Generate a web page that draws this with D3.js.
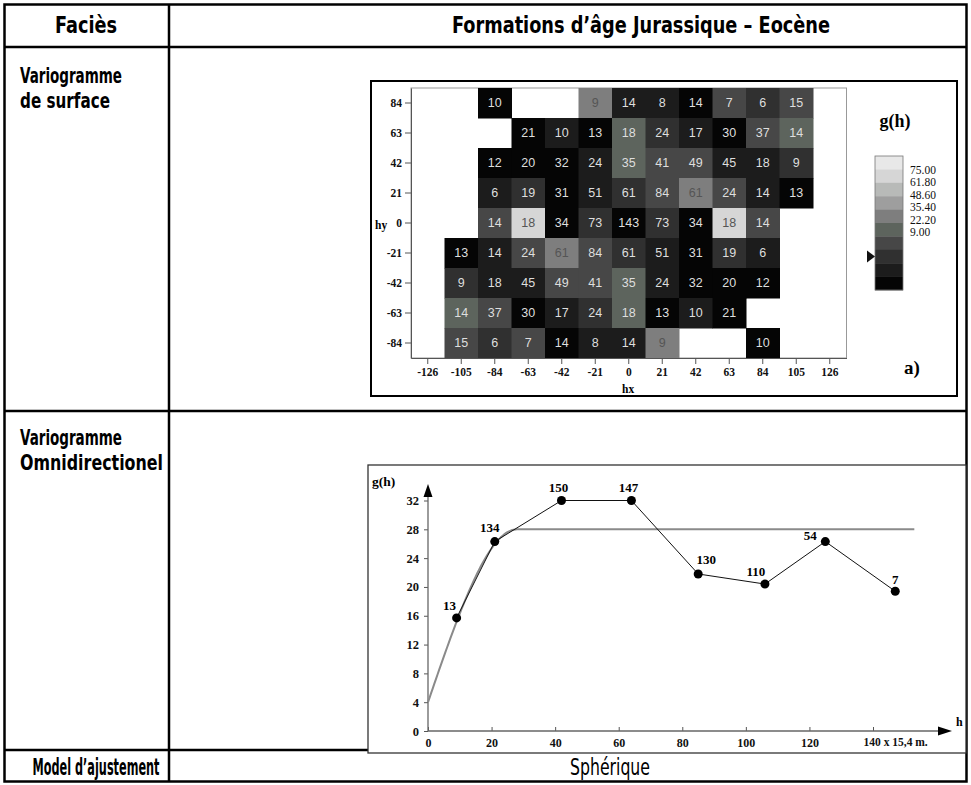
<!DOCTYPE html>
<html><head><meta charset="utf-8">
<script src="https://cdn.jsdelivr.net/npm/d3@7"></script>
<style>
body{margin:0;background:#fff}
svg{display:block}
.cond{font-family:"DejaVu Sans Condensed","DejaVu Sans",sans-serif;font-stretch:condensed;fill:#000}
.serif{font-family:"Liberation Serif","Times New Roman",serif}
</style></head><body>
<svg id="c" width="971" height="785"></svg>
<script>
// ---------- surface variogram map ----------
const hxLags = [-126,-105,-84,-63,-42,-21,0,21,42,63,84,105,126];
const hyLags = [84,63,42,21,0,-21,-42,-63,-84];
// number of pairs in each lag cell (null = empty cell)
const pairCounts = [
  [null,null,10,null,null,9,14,8,14,7,6,15,null],
  [null,null,null,21,10,13,18,24,17,30,37,14,null],
  [null,null,12,20,32,24,35,41,49,45,18,9,null],
  [null,null,6,19,31,51,61,84,61,24,14,13,null],
  [null,null,14,18,34,73,143,73,34,18,14,null,null],
  [null,13,14,24,61,84,61,51,31,19,6,null,null],
  [null,9,18,45,49,41,35,24,32,20,12,null,null],
  [null,14,37,30,17,24,18,13,10,21,null,null,null],
  [null,15,6,7,14,8,14,9,null,null,10,null,null]
];
// g(h) value of each cell
const gammaMap = [
  [null,null,12,null,null,45,19,19,12,32,25,32,null],
  [null,null,null,12,19,12,38,25,19,12,32,38,null],
  [null,null,12,12,12,19,38,32,32,19,19,25,null],
  [null,null,19,25,12,19,25,32,45,32,19,12,null],
  [null,null,32,65,12,25,12,25,12,65,32,null,null],
  [null,12,19,32,45,32,25,19,12,25,19,null,null],
  [null,25,19,19,32,32,38,19,12,12,12,null,null],
  [null,38,32,12,19,25,38,12,19,12,null,null,null],
  [null,32,25,32,12,19,19,45,null,null,12,null,null]
];
const legendLabels = ["75.00","61.80","48.60","35.40","22.20","9.00"];

// ---------- omnidirectional variogram ----------
const lagH   = [9, 21, 42, 64, 85, 106, 125, 147];
const gammaH = [15.7, 26.3, 32, 32, 21.8, 20.4, 26.3, 19.4];
const pairsH = [13, 134, 150, 147, 130, 110, 54, 7];
const yTicksH = [0,4,8,12,16,20,24,28,32];
const xTicksH = [0,20,40,60,80,100,120,140];
// fitted spherical model
const nugget = 4, sill = 28, range = 28, modelEnd = 153;

const svg = d3.select("#c");

// ================= table =================
const T = {l:4.5, r:966.5, t:4.5, b:781.5, col:169, r1:47, r2:411, r3:750};
const tbl = svg.append("g").attr("stroke","#000").attr("stroke-width",2.5).attr("fill","none");
tbl.append("rect").attr("x",T.l).attr("y",T.t).attr("width",T.r-T.l).attr("height",T.b-T.t);
tbl.append("line").attr("x1",T.col).attr("x2",T.col).attr("y1",T.t).attr("y2",T.b);
[T.r1,T.r2,T.r3].forEach(y=>tbl.append("line").attr("x1",T.l).attr("x2",T.r).attr("y1",y).attr("y2",y));

function label(txt,x,y,w,anchor,weight,size){
  const t = svg.append("text").attr("class","cond").attr("x",x).attr("y",y)
    .attr("font-size",size||23).attr("text-anchor",anchor||"start")
    .style("font-weight",weight||"bold").text(txt);
  if(w) t.attr("textLength",w).attr("lengthAdjust","spacingAndGlyphs");
  return t;
}
label("Faciès",86,33,62,"middle");
label("Formations d’âge Jurassique – Eocène",641,33,378,"middle");
label("Variogramme",20,83,102,null,null,21);
label("de surface",20,108,90,null,null,21);
label("Variogramme",20,445,102,null,null,21);
label("Omnidirectionel",20,470,143,null,null,21);
label("Model d’ajustement",96,775,127,"middle");

// ================= variogram map =================
const mapG = svg.append("g");
mapG.append("rect").attr("x",371).attr("y",81).attr("width",586).attr("height",315)
  .attr("fill","#fff").attr("stroke","#000").attr("stroke-width",2);

const bandColors = ["#050505","#1c1c1c","#303030","#474747","#5d645d","#7e7e7e","#9e9e9e","#b8bab8","#d6d6d6","#e8e8e8"];
const color = d3.scaleQuantize().domain([9,75]).range(bandColors);
const hx = d3.scaleBand().domain(hxLags).range([411,846.5]);
const hy = d3.scaleBand().domain(hyLags).range([88,358]);

// plot border
mapG.append("rect").attr("x",411).attr("y",88).attr("width",846.5-411).attr("height",270)
  .attr("fill","none").attr("stroke","#999").attr("stroke-width",1);

const cells = [];
hyLags.forEach((yv,i)=>hxLags.forEach((xv,j)=>{
  if(gammaMap[i][j]!=null) cells.push({xv,yv,g:gammaMap[i][j],n:pairCounts[i][j]});
}));
mapG.selectAll("rect.cell").data(cells).join("rect").attr("class","cell")
  .attr("x",d=>hx(d.xv)).attr("y",d=>hy(d.yv))
  .attr("width",hx.bandwidth()+0.5).attr("height",hy.bandwidth()+0.5)
  .attr("fill",d=>color(d.g));
mapG.selectAll("text.cell").data(cells).join("text").attr("class","cell")
  .attr("x",d=>hx(d.xv)+hx.bandwidth()/2).attr("y",d=>hy(d.yv)+hy.bandwidth()/2)
  .attr("text-anchor","middle").attr("dominant-baseline","central")
  .attr("font-family","Liberation Sans, Arial, sans-serif").attr("font-size",12.5)
  .attr("fill",d=>d.g>=42?"#555":"#dedede").text(d=>d.n);

function styleAxis(g,size){
  g.selectAll("path.domain").attr("stroke","#555");
  g.selectAll(".tick line").attr("stroke","#555");
  g.selectAll("text").attr("font-family","Liberation Serif, Times New Roman, serif")
    .attr("font-weight","bold").attr("font-size",size).attr("fill","#111");
}
const axL = mapG.append("g").attr("transform","translate(411,0)")
  .call(d3.axisLeft(hy).tickSize(6).tickSizeOuter(0).tickPadding(3));
styleAxis(axL,11.5);
const axB = mapG.append("g").attr("transform","translate(0,358)")
  .call(d3.axisBottom(hx).tickSize(6).tickSizeOuter(0).tickPadding(4));
styleAxis(axB,11.5);
mapG.append("text").attr("x",375).attr("y",229).text("hy")
  .attr("class","serif").attr("font-weight","bold").attr("font-size",11.5);
mapG.append("text").attr("x",622).attr("y",393).text("hx")
  .attr("class","serif").attr("font-weight","bold").attr("font-size",11.5);

// legend
mapG.append("text").attr("x",895).attr("y",127).attr("text-anchor","middle")
  .attr("class","serif").attr("font-weight","bold").attr("font-size",18).text("g(h)");
const bandY = d3.scaleBand().domain(d3.range(bandColors.length)).range([156,290]);
const legendBands = bandColors.slice().reverse();
mapG.selectAll("rect.band").data(legendBands).join("rect").attr("class","band")
  .attr("x",875).attr("y",(d,i)=>bandY(i)).attr("width",28).attr("height",bandY.bandwidth()+0.3)
  .attr("fill",d=>d);
mapG.append("rect").attr("x",875).attr("y",156).attr("width",28).attr("height",134)
  .attr("fill","none").attr("stroke","#777").attr("stroke-width",0.8);
const labY = d3.scaleLinear().domain([0,legendLabels.length-1]).range([170,232]);
mapG.selectAll("text.leg").data(legendLabels).join("text").attr("class","leg serif")
  .attr("x",910).attr("y",(d,i)=>labY(i)).attr("dominant-baseline","central")
  .attr("font-size",11.5).attr("fill","#111").text(d=>d);
const my = bandY(7)+bandY.bandwidth()/2;
mapG.append("path").attr("d",`M867,${my-6}L875,${my}L867,${my+6}Z`).attr("fill","#111");
mapG.append("text").attr("x",912).attr("y",374).attr("text-anchor","middle")
  .attr("class","serif").attr("font-weight","bold").attr("font-size",19).text("a)");

// ================= omnidirectional variogram =================
const vg = svg.append("g");
vg.append("rect").attr("x",368).attr("y",465).attr("width",598).attr("height",288)
  .attr("fill","#fff").attr("stroke","#333").attr("stroke-width",1.3);
label("Sphérique",610,775,80,"middle","normal");

const x = d3.scaleLinear().domain([0,140]).range([428,873]);
const y = d3.scaleLinear().domain([0,32]).range([731,500.5]);

// axes
const ax = vg.append("g").attr("transform",`translate(0,${y(0)})`)
  .call(d3.axisBottom(x).tickValues(xTicksH).tickSize(-4).tickPadding(7)
    .tickFormat(d=>d===140?"140 x 15,4 m.":d));
styleAxis(ax,12);
ax.select("path.domain").remove();
ax.selectAll(".tick text").filter(d=>d===140).attr("text-anchor","start").attr("x",-10).attr("font-size",11.5);
const ay = vg.append("g").attr("transform",`translate(${x(0)},0)`)
  .call(d3.axisLeft(y).tickValues(yTicksH).tickSize(4).tickPadding(5));
styleAxis(ay,12.5);
ay.select("path.domain").remove();
vg.append("line").attr("x1",x(0)).attr("x2",942).attr("y1",y(0)).attr("y2",y(0)).attr("stroke","#666").attr("stroke-width",1.3);
vg.append("path").attr("d",`M952,${y(0)}L938,${y(0)-4.5}L938,${y(0)+4.5}Z`).attr("fill","#000");
vg.append("line").attr("x1",x(0)).attr("x2",x(0)).attr("y1",y(0)).attr("y2",494).attr("stroke","#666").attr("stroke-width",1.3);
vg.append("path").attr("d",`M${x(0)},484L${x(0)-4.5},497L${x(0)+4.5},497Z`).attr("fill","#000");
vg.append("text").attr("x",956).attr("y",726).attr("class","serif").attr("font-weight","bold").attr("font-size",12).text("h");
vg.append("text").attr("x",372).attr("y",486).attr("class","serif").attr("font-weight","bold").attr("font-size",13.5).text("g(h)");

// spherical model curve
const sph = h => h>=range ? sill : nugget + (sill-nugget)*(1.5*h/range - 0.5*Math.pow(h/range,3));
const hs = d3.range(0,range,0.5).concat([range, modelEnd]);
vg.append("path").datum(hs).attr("fill","none").attr("stroke","#8a8a8a").attr("stroke-width",2)
  .attr("d",d3.line().x(h=>x(h)).y(h=>y(sph(h))));

// experimental variogram
const pts = lagH.map((h,i)=>({h,g:gammaH[i],n:pairsH[i]}));
vg.append("path").datum(pts).attr("fill","none").attr("stroke","#111").attr("stroke-width",1)
  .attr("d",d3.line().x(d=>x(d.h)).y(d=>y(d.g)));
vg.selectAll("circle").data(pts).join("circle").attr("cx",d=>x(d.h)).attr("cy",d=>y(d.g)).attr("r",4.5).attr("fill","#000");
const nudge = [[-7,-12],[-5,-14],[-3,-13],[-3,-13],[8,-14],[-9,-13],[-15,-6],[0,-12]];
vg.selectAll("text.np").data(pts).join("text").attr("class","np serif")
  .attr("x",(d,i)=>x(d.h)+nudge[i][0]).attr("y",(d,i)=>y(d.g)+nudge[i][1])
  .attr("text-anchor","middle").attr("dominant-baseline","central")
  .attr("font-weight","bold").attr("font-size",13).text(d=>d.n);
</script>
</body></html>
